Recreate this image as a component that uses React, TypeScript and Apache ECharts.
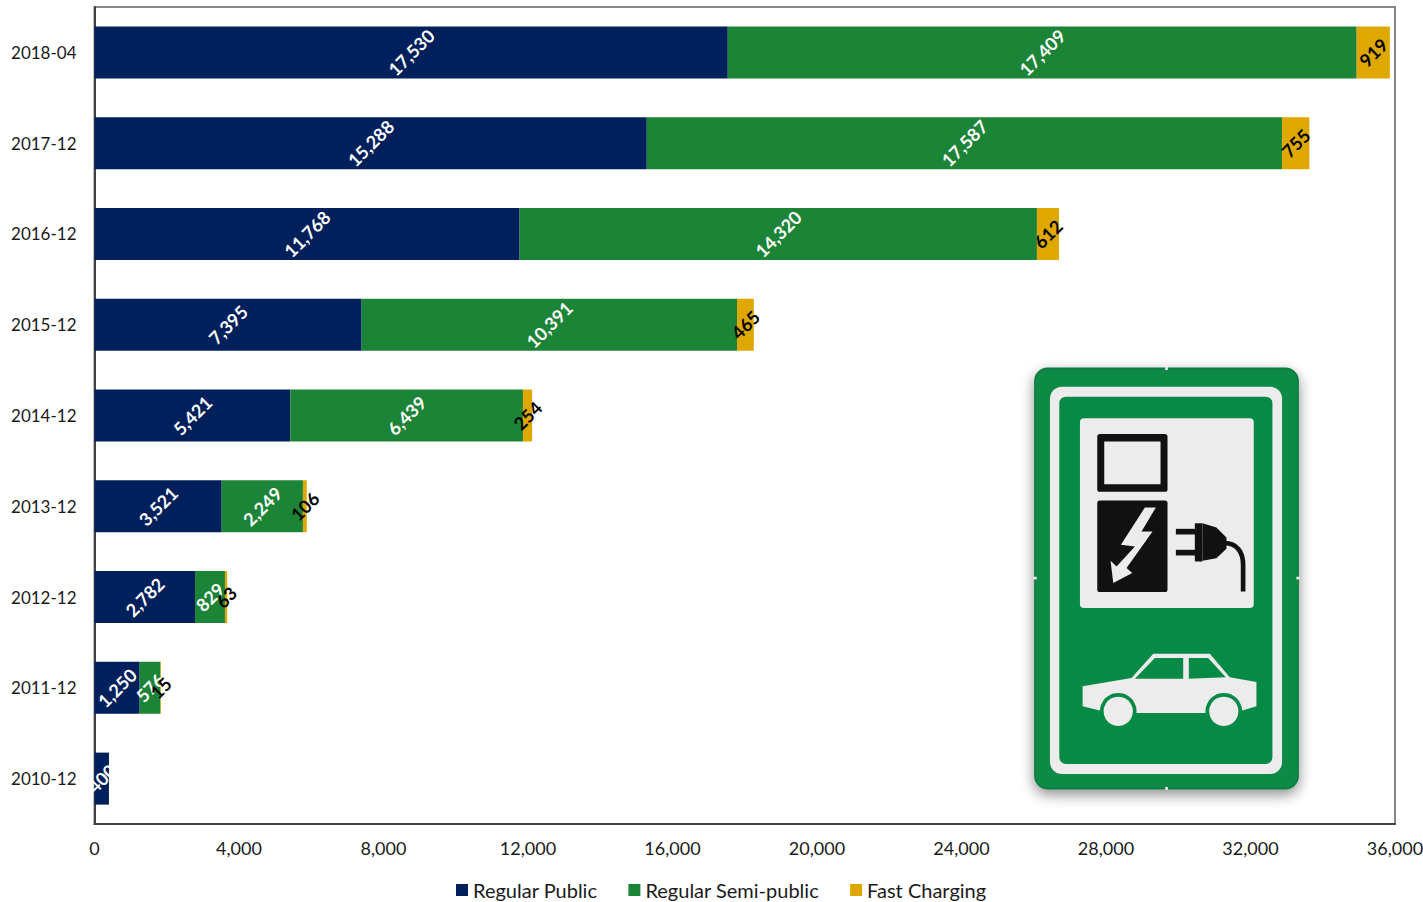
import React, { useEffect, useRef } from "react";
import * as echarts from "echarts";

const categories = ["2010-12", "2011-12", "2012-12", "2013-12", "2014-12", "2015-12", "2016-12", "2017-12", "2018-04"];
const regularPublic = [400, 1250, 2782, 3521, 5421, 7395, 11768, 15288, 17530];
const regularSemiPublic = [null, 576, 829, 2249, 6439, 10391, 14320, 17587, 17409];
const fastCharging = [null, 15, 63, 106, 254, 465, 612, 755, 919];
const xTicks = { min: 0, max: 36000, interval: 4000 };

const FONT = "Lato";
const SIGN_GREEN = "#078a45";
const SIGN_WHITE = "#ececec";
const SIGN_BLACK = "#111111";

const LIGHTNING = "M375 458 L408 458 L365 530 L398 530 L320 640 L337 655 L280 685 L272 618 L290 635 L345 575 L303 570 Z";
const PLUG = "M548 505 L590 518 L620 548 L620 582 L590 610 L548 618 Z";
const CORD = "M615 565 C650 565 670 590 670 630 L670 710";
const CAR = "M188 995 L335 970 L400 897 L570 897 L630 968 L710 982 L710 1055 L660 1070 L640 1075 L270 1075 L188 1055 Z";
const WINDOW_A = "M345 972 L405 910 L490 910 L490 972 Z";
const WINDOW_B = "M507 910 L565 910 L618 968 L507 972 Z";

[["lightningShape", LIGHTNING], ["plugShape", PLUG], ["cordShape", CORD], ["carShape", CAR], ["windowAShape", WINDOW_A], ["windowBShape", WINDOW_B]].forEach(
  ([name, d]) => echarts.graphic.registerShape(name, echarts.graphic.extendPath(d, {}))
);

const box = (x: number, y: number, w: number, h: number, r: number, fill: string, extra: any = {}) => ({
  type: "rect",
  shape: { x, y, width: w, height: h, r },
  style: { fill, ...extra },
});

const wheel = (cx: number) => [
  { type: "circle", shape: { cx, cy: 1070, r: 55 }, style: { fill: SIGN_GREEN } },
  { type: "circle", shape: { cx, cy: 1070, r: 44 }, style: { fill: SIGN_WHITE } },
];

const sign = {
  type: "group",
  x: 1020,
  y: 355,
  scaleX: 1 / 3,
  scaleY: 1 / 3,
  silent: true,
  children: [
    box(45, 40, 790, 1262, 38, SIGN_GREEN, { shadowBlur: 14, shadowColor: "rgba(0,0,0,0.45)", shadowOffsetX: 0, shadowOffsetY: 5, stroke: "#0a7a40", lineWidth: 5 }),
    box(90, 95, 697, 1163, 36, SIGN_WHITE),
    box(118, 125, 640, 1103, 20, SIGN_GREEN),
    box(180, 190, 522, 570, 12, SIGN_WHITE),
    box(232, 237, 211, 174, 8, SIGN_BLACK),
    box(253, 260, 169, 128, 0, SIGN_WHITE),
    box(232, 437, 211, 275, 8, SIGN_BLACK),
    { type: "lightningShape", style: { fill: SIGN_WHITE } },
    box(468, 522, 60, 17, 0, SIGN_BLACK),
    box(468, 585, 60, 17, 0, SIGN_BLACK),
    box(525, 505, 23, 115, 2, SIGN_BLACK),
    { type: "plugShape", style: { fill: SIGN_BLACK } },
    { type: "cordShape", style: { fill: "none", stroke: SIGN_BLACK, lineWidth: 14 } },
    { type: "carShape", style: { fill: SIGN_WHITE } },
    { type: "windowAShape", style: { fill: SIGN_GREEN } },
    { type: "windowBShape", style: { fill: SIGN_GREEN } },
    ...wheel(295),
    ...wheel(612),
    box(436, 36, 8, 9, 0, SIGN_WHITE),
    box(436, 1297, 8, 9, 0, SIGN_WHITE),
    box(41, 666, 9, 8, 0, SIGN_WHITE),
    box(830, 666, 9, 8, 0, SIGN_WHITE),
  ],
};

const makeSeries = (name: string, data: (number | null)[], color: string, labelColor: string) => ({
  name,
  type: "bar",
  stack: "total",
  data,
  barWidth: 52,
  itemStyle: { color },
  label: {
    show: true,
    position: "inside",
    rotate: 45,
    color: labelColor,
    fontFamily: FONT,
    fontSize: 18,
    fontWeight: 700,
    formatter: (p: any) => Number(p.value).toLocaleString("en-US"),
  },
});

export default function App() {
  const ref = useRef<HTMLDivElement>(null);
  useEffect(() => {
    const chart = echarts.init(ref.current!, null, { renderer: "svg" });
    chart.setOption({
      animation: false,
      backgroundColor: "#ffffff",
      textStyle: { fontFamily: FONT },
      grid: { left: 94.5, right: 28, top: 7, bottom: 78, show: true, borderColor: "#868686", borderWidth: 2, containLabel: false, outerBoundsMode: "none" },
      legend: {
        left: 456,
        top: 880,
        padding: 0,
        itemWidth: 12,
        itemHeight: 12,
        itemGap: 31,
        icon: "rect",
        textStyle: { color: "#1a1a1a", fontSize: 20, fontFamily: FONT },
        data: ["Regular Public", "Regular Semi-public", "Fast Charging"],
      },
      xAxis: {
        type: "value",
        ...xTicks,
        splitLine: { show: false },
        axisTick: { show: false },
        axisLine: { show: true, lineStyle: { color: "#404040", width: 2 } },
        axisLabel: { color: "#1a1a1a", fontSize: 18, fontFamily: FONT, margin: 15, formatter: (v: number) => v.toLocaleString("en-US") },
      },
      yAxis: {
        type: "category",
        data: categories,
        axisTick: { show: false },
        axisLine: { show: true, lineStyle: { color: "#404040", width: 2 } },
        axisLabel: { color: "#1a1a1a", fontSize: 17, fontFamily: FONT, margin: 18 },
      },
      series: [
        makeSeries("Regular Public", regularPublic, "#00205b", "#ffffff"),
        makeSeries("Regular Semi-public", regularSemiPublic, "#1c8437", "#ffffff"),
        makeSeries("Fast Charging", fastCharging, "#dfa800", "#000000"),
      ],
      graphic: [sign],
    });
    return () => chart.dispose();
  }, []);
  return <div ref={ref} style={{ position: "fixed", left: 0, top: 0, width: 1423, height: 902 }} />;
}
